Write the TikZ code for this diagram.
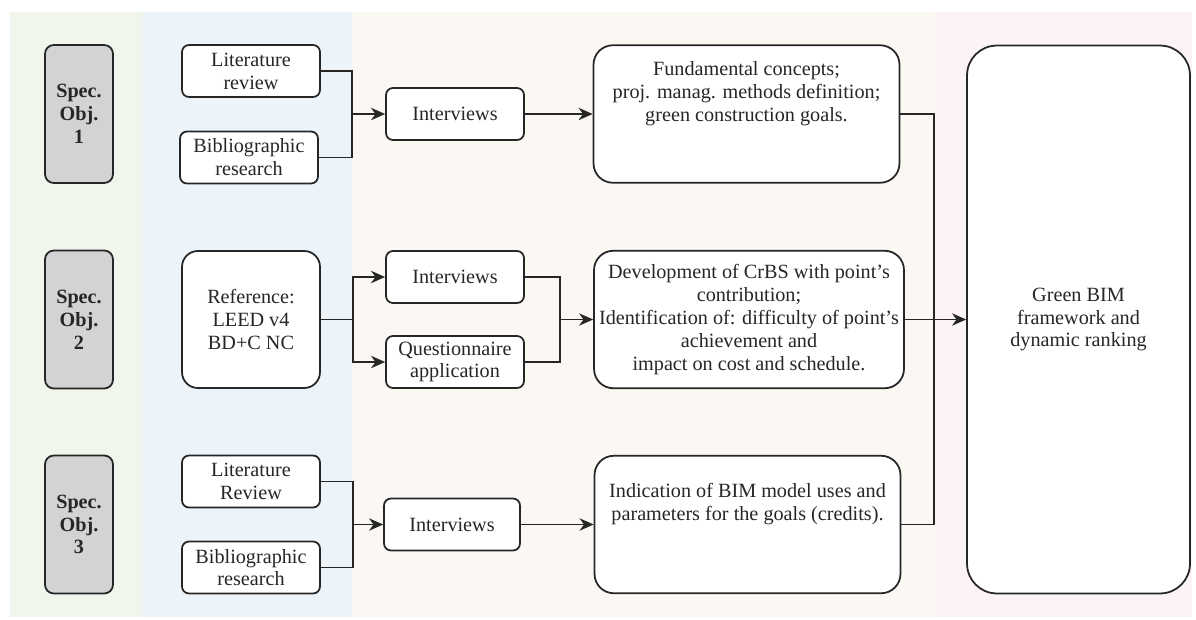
\documentclass[tikz,border=0pt]{standalone}
\usepackage{fontspec}
\setmainfont{Liberation Serif}
\usepackage{xcolor}
\usepackage{tikz}
\usetikzlibrary{arrows.meta, positioning}

\definecolor{bandgreen}{HTML}{F1F6EC}
\definecolor{bandblue}{HTML}{ECF4F9}
\definecolor{bandbeige}{HTML}{FBF8F3}
\definecolor{bandpink}{HTML}{FCF4F4}
\definecolor{objgray}{HTML}{D3D3D3}
\definecolor{edge}{HTML}{262626}

\begin{document}
\begin{tikzpicture}[
  x=0.02cm, y=-0.02cm,
  font=\fontsize{11.5}{13}\selectfont,
  every node/.style={inner sep=1pt, align=center, text=black!85},
  objbox/.style={draw=edge, line width=1pt, rounded corners=5pt, fill=objgray,
                 minimum width=1.36cm, minimum height=2.76cm, font=\fontsize{11.5}{13}\selectfont\bfseries},
  box/.style={draw=edge, line width=1pt, rounded corners=4pt, fill=white,
              minimum width=2.76cm, minimum height=1.04cm},
  bigbox/.style={draw=edge, line width=1pt, rounded corners=11pt, fill=white,
                 minimum width=6.12cm, minimum height=2.75cm},
  line/.style={draw=edge, line width=1pt},
  arr/.style={line, -{Stealth[length=8pt, width=7pt, inset=2.5pt]}}
]
  \useasboundingbox (0,0) rectangle (1196,619);

  % background bands
  \fill[bandgreen] (10,12) rectangle (143,617);
  \fill[bandblue]  (143,12) rectangle (352,617);
  \fill[bandbeige] (352,12) rectangle (935,617);
  \fill[bandpink]  (935,12) rectangle (1192,617);

  % specific objectives
  \node[objbox] (obj1) at (79,114) {Spec.\\Obj.\\1};
  \node[objbox] (obj2) at (79,319.5) {Spec.\\Obj.\\2};
  \node[objbox] (obj3) at (79,524.5) {Spec.\\Obj.\\3};

  % sources
  \node[box] (lit1) at (251,71) {Literature\\review};
  \node[box] (bib1) at (249,157.5) {Bibliographic\\research};
  \node[box, minimum height=2.74cm, rounded corners=9pt] (ref) at (251,319.5) {Reference:\\LEED v4\\BD+C NC};
  \node[box] (lit3) at (251,481.5) {Literature\\Review};
  \node[box] (bib3) at (251,567.5) {Bibliographic\\research};

  % methods
  \node[box] (int1) at (455,114) {Interviews};
  \node[box] (int2) at (455,277) {Interviews};
  \node[box] (quest) at (455,362) {Questionnaire\\application};
  \node[box, minimum width=2.72cm] (int3) at (452,524.5) {Interviews};

  % results
  \node[bigbox] (fund) at (746.5,114) {Fundamental concepts;\\proj. manag. methods definition;\\green construction goals.\\[13pt]};
  \node[bigbox, minimum width=6.2cm] (dev) at (749,319.5) {Development of CrBS with point's\\contribution;\\Identification of: difficulty of point's\\achievement and\\impact on cost and schedule.};
  \node[bigbox] (ind) at (747.5,524.5) {Indication of BIM model uses and\\parameters for the goals (credits).\\[13pt]};
  \node[draw=edge, line width=1pt, rounded corners=17pt, fill=white,
        minimum width=4.46cm, minimum height=10.96cm] (green) at (1078.5,319.5)
        {Green BIM\\framework and\\dynamic ranking};

  % junctions
  \coordinate (j1) at (352,114);
  \coordinate (j2) at (353,319.5);
  \coordinate (j3) at (560,319.5);
  \coordinate (j4) at (353,524.5);
  \coordinate (rail) at (934,319.5);

  \draw[line] (lit1.east) -| (j1) |- (bib1.east);
  \draw[arr] (j1) -- (int1);
  \draw[arr] (int1) -- (fund);

  \draw[line] (ref.east) -- (j2);
  \draw[arr] (j2) |- (int2.west);
  \draw[arr] (j2) |- (quest.west);
  \draw[line] (int2.east) -| (j3) |- (quest.east);
  \draw[arr] (j3) -- (dev);

  \draw[line] (lit3.east) -| (j4) |- (bib3.east);
  \draw[arr] (j4) -- (int3);
  \draw[arr] (int3) -- (ind);

  \draw[line] (fund.east) -| (rail) |- (ind.east);
  \draw[arr] (dev) -- (green);
\end{tikzpicture}
\end{document}
